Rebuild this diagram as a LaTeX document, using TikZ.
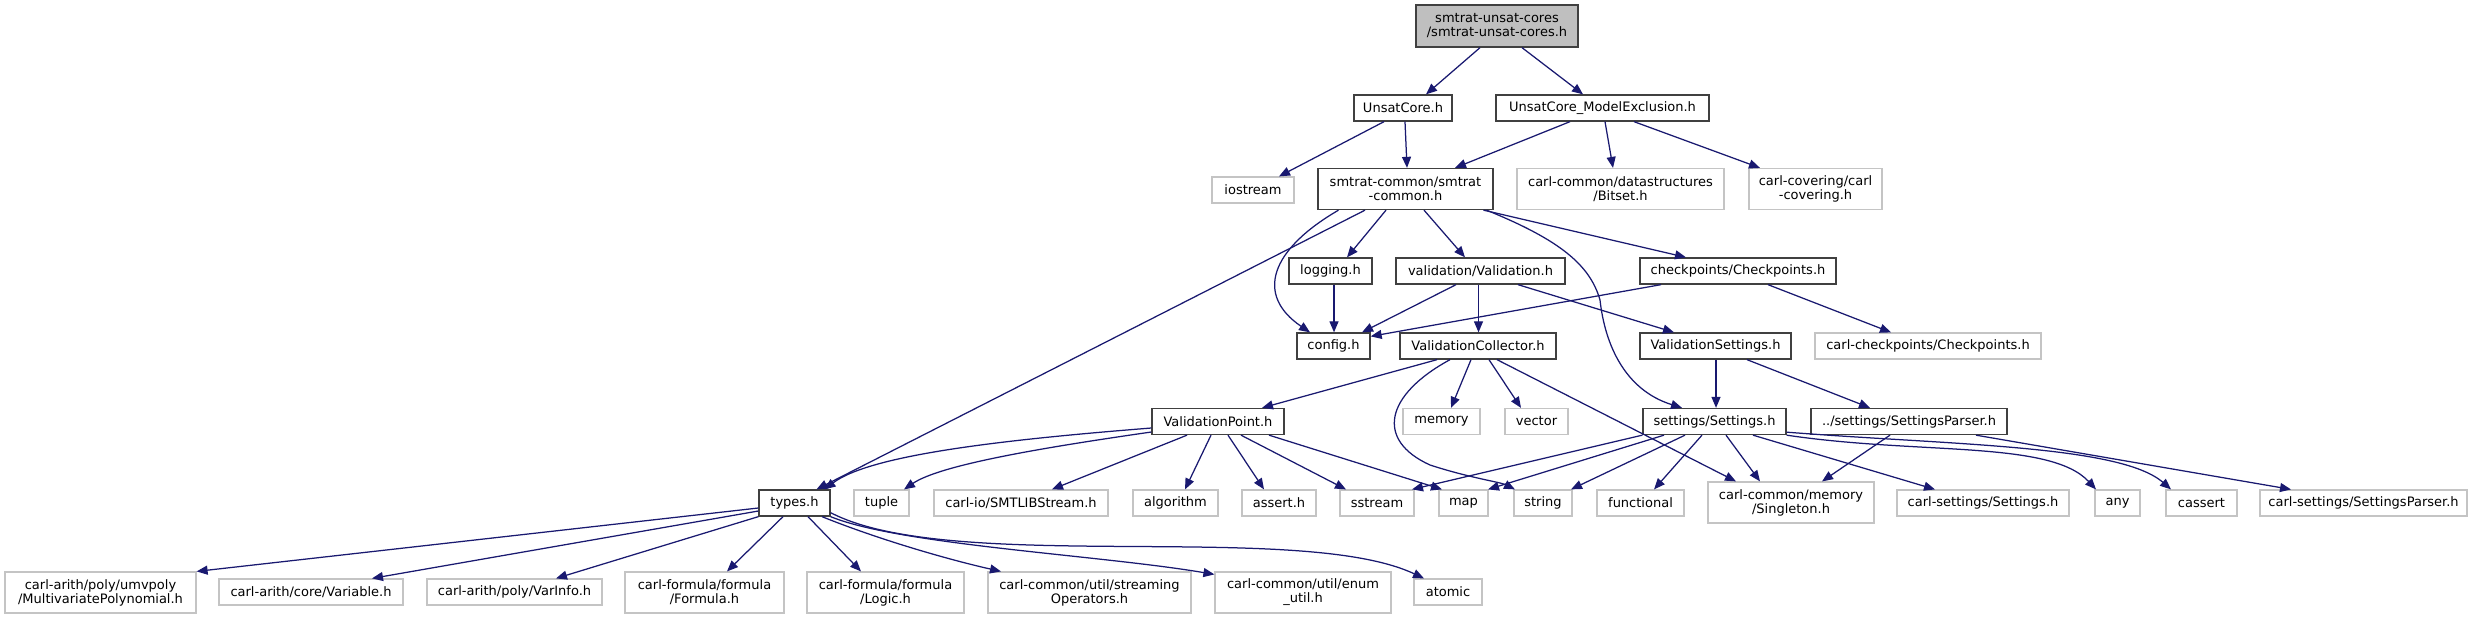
\documentclass[tikz,border=0pt]{standalone}
\usepackage{fontspec}
\setmainfont{DejaVu Sans}
\usetikzlibrary{arrows.meta}
\definecolor{edgeblue}{HTML}{191970}
\definecolor{topgray}{HTML}{BFBFBF}
\definecolor{extgray}{HTML}{C4C4C4}
\definecolor{boxblack}{HTML}{404040}
\newcommand\nodefont{\fontsize{13}{14}\selectfont}
\tikzset{
  n/.style={draw=boxblack, line width=1.3pt, fill=white, inner sep=0pt, align=center, font=\nodefont},
  g/.style={n, draw=extgray, line width=1.2pt},
  sz/.style 2 args={minimum width=#1pt, minimum height=#2pt},
  e/.style={draw=edgeblue, line width=1.25pt, -{Triangle[length=11pt,width=9pt]}},
}
\begin{document}
\begin{tikzpicture}[x=1pt,y=-1pt]
\useasboundingbox[fill=white] (0,0) rectangle (2475,619);
% level 0
\node[n, fill=topgray, sz={162}{42}] (top) at (1497,26) {smtrat-unsat-cores\\/smtrat-unsat-cores.h};
% level 1
\node[n, sz={98}{26}] (uc) at (1403,108) {UnsatCore.h};
\node[n, sz={213}{26}] (ucme) at (1602.5,108) {UnsatCore\_ModelExclusion.h};
% level 2
\node[g, sz={82}{26}] (ios) at (1253,190) {iostream};
\node[n, sz={175}{41}] (sc) at (1405.5,189) {smtrat-common/smtrat\\-common.h};
\node[g, sz={207}{41}] (bitset) at (1620.5,189) {carl-common/datastructures\\/Bitset.h};
\node[g, sz={133}{41}] (cov) at (1815.5,189) {carl-covering/carl\\-covering.h};
% level 3
\node[n, sz={83}{26}] (log) at (1330.5,271) {logging.h};
\node[n, sz={169}{26}] (val) at (1480.5,271) {validation/Validation.h};
\node[n, sz={196}{26}] (chk) at (1738,271) {checkpoints/Checkpoints.h};
% level 4
\node[n, sz={73}{26}] (cfg) at (1333.5,346) {config.h};
\node[n, sz={156}{26}] (vc) at (1478,346) {ValidationCollector.h};
\node[n, sz={151}{26}] (vs) at (1715.5,346) {ValidationSettings.h};
\node[g, sz={226}{26}] (cchk) at (1928,346) {carl-checkpoints/Checkpoints.h};
% level 5
\node[n, sz={132}{26}] (vp) at (1218,421.5) {ValidationPoint.h};
\node[g, sz={77}{26}] (mem) at (1441.5,421.5) {memory};
\node[g, sz={63}{26}] (vec) at (1536.5,421.5) {vector};
\node[n, sz={143}{26}] (set) at (1714.5,421.5) {settings/Settings.h};
\node[n, sz={196}{26}] (setp) at (1909,421.5) {../settings/SettingsParser.h};
% level 6
\node[n, sz={71}{26}] (types) at (794.5,503) {types.h};
\node[g, sz={55}{26}] (tuple) at (881.5,503) {tuple};
\node[g, sz={174}{26}] (smtlib) at (1021,503) {carl-io/SMTLIBStream.h};
\node[g, sz={85}{26}] (alg) at (1175.5,503) {algorithm};
\node[g, sz={74}{26}] (assert) at (1279,503) {assert.h};
\node[g, sz={74}{26}] (sstream) at (1377,503) {sstream};
\node[g, sz={49}{26}] (map) at (1463.5,503) {map};
\node[g, sz={58}{26}] (string) at (1543,503) {string};
\node[g, sz={87}{26}] (func) at (1640.5,503) {functional};
\node[g, sz={166}{41}] (single) at (1791,502.5) {carl-common/memory\\/Singleton.h};
\node[g, sz={172}{26}] (csettings) at (1983,503) {carl-settings/Settings.h};
\node[g, sz={45}{26}] (any) at (2117.5,503) {any};
\node[g, sz={71}{26}] (cassert) at (2201.5,503) {cassert};
\node[g, sz={207}{26}] (csetp) at (2363.5,503) {carl-settings/SettingsParser.h};
% level 7
\node[g, sz={191}{41}] (mvp) at (100.5,592.5) {carl-arith/poly/umvpoly\\/MultivariatePolynomial.h};
\node[g, sz={184}{26}] (var) at (311,592) {carl-arith/core/Variable.h};
\node[g, sz={175}{26}] (vinfo) at (514.5,592) {carl-arith/poly/VarInfo.h};
\node[g, sz={159}{41}] (formula) at (704.5,592.5) {carl-formula/formula\\/Formula.h};
\node[g, sz={157}{41}] (logic) at (885.5,592.5) {carl-formula/formula\\/Logic.h};
\node[g, sz={203}{41}] (stream) at (1089.5,592.5) {carl-common/util/streaming\\Operators.h};
\node[g, sz={176}{41}] (enum) at (1303,592.5) {carl-common/util/enum\\\_util.h};
\node[g, sz={68}{26}] (atomic) at (1448,592) {atomic};
% edges
\draw[e] ([xshift=-17pt]top.south) -- ([xshift=23pt]uc.north);
\draw[e] ([xshift=25pt]top.south) -- ([xshift=-19.5pt]ucme.north);
\draw[e] ([xshift=-19pt]uc.south) -- ([xshift=26pt]ios.north);
\draw[e] ([xshift=2pt]uc.south) -- ([xshift=1.5pt]sc.north);
\draw[e] ([xshift=-32.5pt]ucme.south) -- ([xshift=49.5pt]sc.north);
\draw[e] ([xshift=2.5pt]ucme.south) -- ([xshift=-7.5pt]bitset.north);
\draw[e] ([xshift=31.5pt]ucme.south) -- ([xshift=-55.5pt]cov.north);
\draw[e] ([xshift=-19.5pt]sc.south) -- ([xshift=16.5pt]log.north);
\draw[e] ([xshift=18.5pt]sc.south) -- ([xshift=-15.5pt]val.north);
\draw[e] ([xshift=78pt]sc.south) -- ([xshift=-52pt]chk.north);
\draw[e] ([xshift=-67pt]sc.south) .. controls (1270,250) and (1255,295) .. ([xshift=-23.5pt]cfg.north);
\draw[e] ([xshift=-40.5pt]sc.south) -- ([xshift=22pt]types.north);
\draw[e] ([xshift=81pt]sc.south) .. controls (1560,240) and (1590,265) .. (1600,300) .. controls (1605,345) and (1625,390) .. ([xshift=-32.5pt]set.north);
\draw[e] ([xshift=3.5pt]log.south) -- ([xshift=0.5pt]cfg.north);
\draw[e] ([xshift=-24.5pt]val.south) -- ([xshift=28.5pt]cfg.north);
\draw[e] ([xshift=-2pt]val.south) -- ([xshift=0.5pt]vc.north);
\draw[e] ([xshift=37.5pt]val.south) -- ([xshift=-41.5pt]vs.north);
\draw[e] ([xshift=-77pt]chk.south) -- ([yshift=-4pt]cfg.north east);
\draw[e] ([xshift=30pt]chk.south) -- ([xshift=-37pt]cchk.north);
\draw[e] ([xshift=0.5pt]vs.south) -- ([xshift=1.5pt]set.north);
\draw[e] ([xshift=31.5pt]vs.south) -- ([xshift=-39pt]setp.north);
\draw[e] ([xshift=-41pt]vc.south) -- ([xshift=44pt]vp.north);
\draw[e] ([xshift=-7pt]vc.south) -- ([xshift=9.5pt]mem.north);
\draw[e] ([xshift=11pt]vc.south) -- ([xshift=-15.5pt]vec.north);
\draw[e] ([xshift=-28pt]vc.south) .. controls (1385,395) and (1375,440) .. (1430,465) .. controls (1470,478) and (1500,482) .. ([xshift=-28pt]string.north);
\draw[e] ([xshift=19pt]vc.south) -- ([xshift=-55pt]single.north);
\draw[e] ([yshift=-6.5pt]vp.west) .. controls (1000,440) and (870,455) .. ([xshift=30pt]types.north);
\draw[e] ([yshift=-10.5pt]vp.west) .. controls (1040,448) and (940,465) .. ([xshift=22.5pt]tuple.north);
\draw[e] ([xshift=-31pt]vp.south) -- ([xshift=31pt]smtlib.north);
\draw[e] ([xshift=-7pt]vp.south) -- ([xshift=9.5pt]alg.north);
\draw[e] ([xshift=10pt]vp.south) -- ([xshift=-15pt]assert.north);
\draw[e] ([xshift=23pt]vp.south) -- ([xshift=-31pt]sstream.north);
\draw[e] ([xshift=51pt]vp.south) -- ([xshift=-21.5pt]map.north);
\draw[e] (set.south west) -- ([xshift=35pt]sstream.north);
\draw[e] ([xshift=-50.5pt]set.south) -- ([xshift=24.5pt]map.north);
\draw[e] ([xshift=-29.5pt]set.south) -- ([xshift=28pt]string.north);
\draw[e] ([xshift=-12.5pt]set.south) -- ([xshift=13.5pt]func.north);
\draw[e] ([xshift=11.5pt]set.south) -- ([xshift=-31pt]single.north);
\draw[e] ([xshift=38.5pt]set.south) -- ([xshift=-48pt]csettings.north);
\draw[e] (set.south east) .. controls (1920,455) and (2050,440) .. ([xshift=-21.5pt]any.north);
\draw[e] ([yshift=3pt]set.south east) .. controls (1950,445) and (2120,445) .. ([xshift=-30.5pt]cassert.north);
\draw[e] ([xshift=-19pt]setp.south) -- ([xshift=31pt]single.north);
\draw[e] ([xshift=67pt]setp.south) -- ([xshift=-72.5pt]csetp.north);
\draw[e] ([yshift=-5pt]types.west) -- (mvp.north east);
\draw[e] ([yshift=-8pt]types.west) -- ([xshift=61pt]var.north);
\draw[e] (types.south west) -- ([xshift=41.5pt]vinfo.north);
\draw[e] ([xshift=-11.5pt]types.south) -- ([xshift=22.5pt]formula.north);
\draw[e] ([xshift=13.5pt]types.south) -- ([xshift=-24.5pt]logic.north);
\draw[e] ([xshift=27.5pt]types.south) .. controls (880,540) and (950,560) .. ([xshift=-88.5pt]stream.north);
\draw[e] (types.south east) .. controls (900,545) and (1100,555) .. ([yshift=-3pt]enum.north west);
\draw[e] ([yshift=4pt]types.south east) .. controls (950,575) and (1300,520) .. ([xshift=-24pt]atomic.north);
\end{tikzpicture}
\end{document}
